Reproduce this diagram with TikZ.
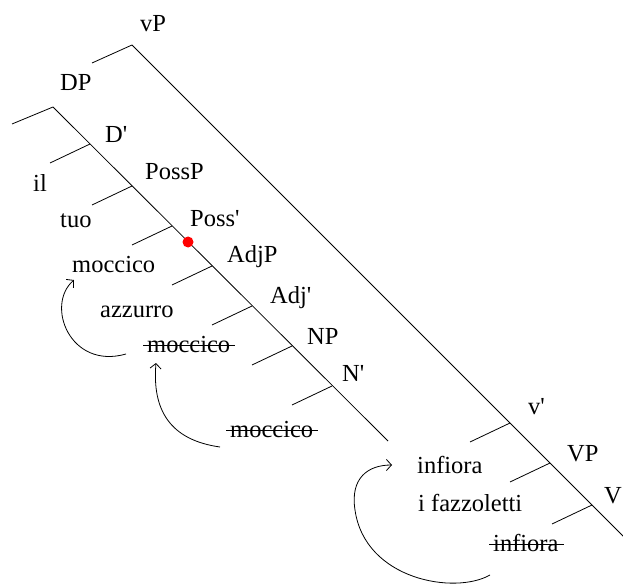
\documentclass[tikz,border=0pt]{standalone}
\usepackage{fontspec}
\newfontfamily\lab{Liberation Serif}
\usetikzlibrary{calc,arrows.meta}
\tikzset{
  lbl/.style={anchor=base west, inner sep=0pt, font=\lab\fontsize{24.5}{29}\selectfont},
  edge/.style={line width=0.8pt},
  strike/.style={line width=1.1pt},
  move/.style={line width=0.8pt, -{Straight Barb[length=5pt,width=11pt]}},
}
\begin{document}
\begin{tikzpicture}[x=1pt,y=-1pt]
\useasboundingbox (0,0) rectangle (623,585);

% vP spine and its joints
\coordinate (vP) at (132,45);
\coordinate (vPl) at (92,63);
\coordinate (vPend) at (640,553);
\coordinate (jv1) at (510,423);
\coordinate (jVP) at (550,463);
\coordinate (jV) at (592,505);
% DP spine and its joints
\coordinate (DP) at (53,107);
\coordinate (DPl) at (12,124);
\coordinate (DPend) at (388,441);
\coordinate (jD1) at (90,144);
\coordinate (jPossP) at (132,186);
\coordinate (jPoss1) at (172,226);
\coordinate (jAdjP) at (212,266);
\coordinate (jAdj1) at (252,306);
\coordinate (jNP) at (292,346);
\coordinate (jN1) at (332,386);

\draw[edge] (vPl) -- (vP) -- (vPend);
\draw[edge] (DPl) -- (DP) -- (DPend);
\foreach \j in {jD1,jPossP,jPoss1,jAdjP,jAdj1,jNP,jN1,jv1,jVP,jV}
  \draw[edge] (\j) -- ++(-40,19);

\fill[red] (188,242) circle (5.5pt);

% labels
\node[lbl] (tvP) at (140,32) {vP};
\node[lbl] (tDP) at (60,91) {DP};
\node[lbl] (tD1) at (105,143) {D'};
\node[lbl] (tPossP) at (145,180) {PossP};
\node[lbl] (til) at (33,192) {il};
\node[lbl] (ttuo) at (60,228) {tuo};
\node[lbl] (tPoss1) at (190,227) {Poss'};
\node[lbl] (m1) at (72,272) {moccico};
\node[lbl] (tAdjP) at (227,262) {AdjP};
\node[lbl] (taz) at (100,317) {azzurro};
\node[lbl] (tAdj1) at (270,303) {Adj'};
\node[lbl] (m2) at (147,352) {moccico};
\node[lbl] (tNP) at (307,344) {NP};
\node[lbl] (tN1) at (342,381) {N'};
\node[lbl] (m3) at (230,437) {moccico};
\node[lbl] (tv1) at (528,414) {v'};
\node[lbl] (i1) at (417,473) {infiora};
\node[lbl] (tVP) at (567,461) {VP};
\node[lbl] (tfaz) at (418,511) {i fazzoletti};
\node[lbl] (tV) at (604,503) {V};
\node[lbl] (i2) at (493,551) {infiora};

% strike-throughs of the lower copies
\foreach \n in {m2,m3,i2}
  \draw[strike] ($(\n.base west)+(-4,-6.5)$) -- ($(\n.base east)+(5,-6.5)$);

% movement arrows
\coordinate (a1s) at (126,354);
\coordinate (a1e) at (74,280);
\draw[move] (a1s) .. controls (70,370) and (45,305) .. (a1e);
\coordinate (a2s) at (220,447);
\coordinate (a2e) at (156,363);
\draw[move] (a2s) .. controls (170,440) and (152,410) .. (a2e);
\coordinate (a3s) at (490,575);
\coordinate (a3m) at (355,510);
\coordinate (a3e) at (392,465);
\draw[move] (a3s) .. controls (455,595) and (365,580) .. (a3m)
  .. controls (350,478) and (368,465) .. (a3e);
\end{tikzpicture}
\end{document}
